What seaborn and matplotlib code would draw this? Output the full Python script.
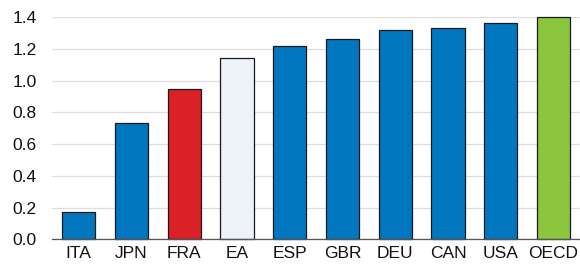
import numpy as np
import pandas as pd
import matplotlib.pyplot as plt
import seaborn as sns

countries = ['ITA', 'JPN', 'FRA', 'EA', 'ESP', 'GBR', 'DEU', 'CAN', 'USA', 'OECD']
values = [0.17, 0.73, 0.95, 1.14, 1.22, 1.26, 1.32, 1.33, 1.36, 1.40]
bar_colors = ['#0077BE', '#0077BE', '#DA2128', '#EDF1F8', '#0077BE',
              '#0077BE', '#0077BE', '#0077BE', '#0077BE', '#8CC63F']

sns.set_style('white')
plt.rcParams['font.family'] = ['Liberation Sans', 'DejaVu Sans']

df = pd.DataFrame({'country': countries, 'value': values})

fig = plt.figure(figsize=(5.8, 2.66), dpi=100)
ax = fig.add_axes([0.09, 0.1, 0.91, 0.836])
sns.barplot(data=df, x='country', y='value', hue='country', palette=bar_colors,
            legend=False, width=0.63, saturation=1, edgecolor='#1a1a1a',
            linewidth=0.9, ax=ax)
for p in ax.patches:
    p.set_clip_on(False)

ax.set_ylim(0, 1.4)
ax.set_xlim(-0.5, 9.5)
ax.set_yticks(np.arange(0, 1.41, 0.2))
ax.set_yticklabels([f'{t:.1f}' for t in np.arange(0, 1.41, 0.2)])
ax.yaxis.grid(True, color='#dddddd', linewidth=0.9)
ax.set_axisbelow(True)
for s in ['left', 'right', 'top']:
    ax.spines[s].set_visible(False)
ax.spines['bottom'].set_color('#555555')
ax.spines['bottom'].set_linewidth(0.9)
ax.tick_params(axis='both', length=0, labelsize=12.5, colors='#111111')
ax.tick_params(axis='y', pad=11)
ax.tick_params(axis='x', pad=5)
ax.set_xlabel('')
ax.set_ylabel('')

fig.savefig('out.png', dpi=100)
